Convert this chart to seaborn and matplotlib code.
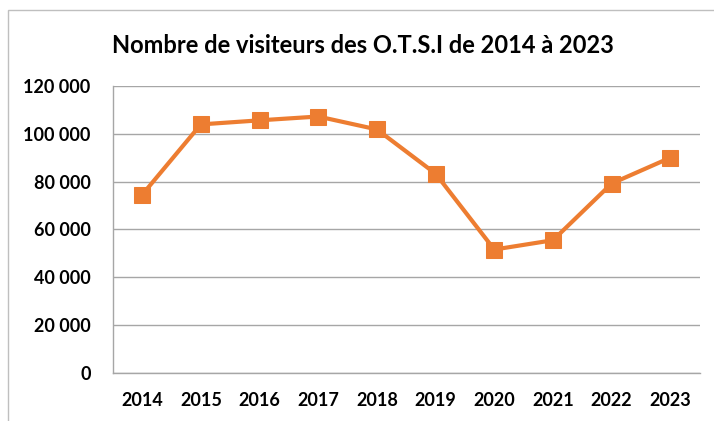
import matplotlib
matplotlib.use('Agg')
import matplotlib.pyplot as plt
import seaborn as sns
import pandas as pd
from matplotlib.patches import Rectangle
from matplotlib.ticker import FuncFormatter

annees = ['2014', '2015', '2016', '2017', '2018', '2019', '2020', '2021', '2022', '2023']
visiteurs = [74500, 103900, 105600, 107200, 101800, 83300, 51600, 55500, 79200, 90000]

sns.set_theme(style="white")
plt.rcParams['font.family'] = ['Lato', 'DejaVu Sans']

df = pd.DataFrame({'annee': annees, 'visiteurs': visiteurs})
orange = '#ED7D31'

fig = plt.figure(figsize=(7.14, 4.21), dpi=100)
ax = fig.add_axes([0.158, 0.114, 0.822, 0.682])

sns.lineplot(data=df, x='annee', y='visiteurs', color=orange, linewidth=3,
             marker='s', markersize=12, markeredgecolor=orange, ax=ax, sort=False)

ax.set_ylim(0, 120000)
ax.set_yticks(range(0, 120001, 20000))
ax.set_xlim(-0.5, len(annees) - 0.5)
ax.yaxis.set_major_formatter(FuncFormatter(lambda v, p: f'{int(v):,}'.replace(',', ' ')))
ax.grid(axis='y', color='#A6A6A6', linewidth=1)
ax.set_axisbelow(True)
for s in ['top', 'right']:
    ax.spines[s].set_visible(False)
for s in ['left', 'bottom']:
    ax.spines[s].set_color('#A6A6A6')
    ax.spines[s].set_linewidth(1)
ax.tick_params(axis='both', length=0, labelsize=13, colors='black')
ax.tick_params(axis='y', pad=16)
ax.tick_params(axis='x', pad=14)
for lbl in ax.get_xticklabels() + ax.get_yticklabels():
    lbl.set_fontweight('bold')
ax.set_xlabel('')
ax.set_ylabel('')

fig.text(0.508, 0.893, 'Nombre de visiteurs des O.T.S.I de 2014 à 2023',
         ha='center', va='center', fontsize=17, fontweight='bold', color='black')

fig.patches.append(Rectangle((8 / 714, -0.1), 1.1, 1.1 - 10 / 421 + 0.0,
                             transform=fig.transFigure, fill=False,
                             edgecolor='#BFBFBF', linewidth=1))

fig.savefig('out.png', dpi=100)
